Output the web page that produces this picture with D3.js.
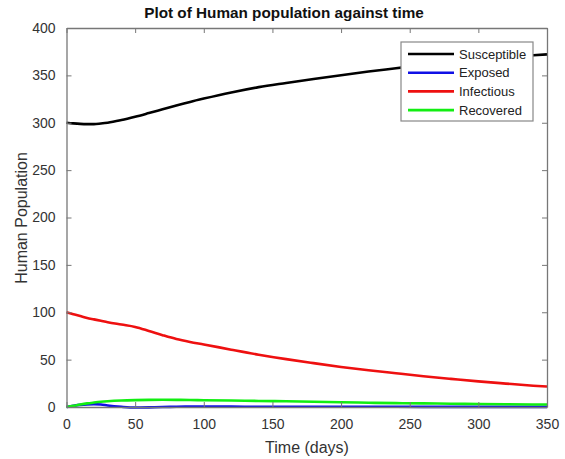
<!DOCTYPE html>
<html>
<head>
<meta charset="utf-8">
<script src="https://cdn.jsdelivr.net/npm/d3@7"></script>
<style>
  html, body { margin: 0; padding: 0; background: #fff; }
  svg { display: block; font-family: "Liberation Sans", Arial, sans-serif; }
</style>
</head>
<body>
<svg id="chart" width="565" height="459"></svg>
<script>
// Time points (days) and population of each compartment
const time        = [0, 5, 10, 15, 20, 25, 30, 40, 50, 60, 70, 80, 90, 100, 120, 140, 160, 180, 200, 220, 240, 260, 280, 300, 320, 340, 350];
const susceptible = [300, 299.3, 298.8, 298.6, 298.6, 299.2, 300, 302.8, 306.3, 310.2, 314.2, 318.2, 322, 325.5, 332, 337.6, 342, 346.2, 350.2, 354, 357.5, 361, 364, 366.6, 369, 371.2, 372.2];
const exposed     = [0, 1.2, 2.2, 2.8, 3, 2.6, 1.6, 0.2, -0.6, -0.4, 0, 0.3, 0.4, 0.5, 0.4, 0.3, 0.3, 0.2, 0.2, 0.2, 0.2, 0.1, 0.1, 0.1, 0.1, 0.1, 0.1];
const infectious  = [100, 98, 96, 94, 92.5, 91, 89.5, 87, 84.5, 80.3, 75.8, 71.7, 68.6, 66, 60.5, 55.2, 50.5, 46.3, 42.3, 38.8, 35.6, 32.5, 29.7, 27, 24.7, 22.5, 21.6];
const recovered   = [0, 1.2, 2.6, 3.8, 4.7, 5.5, 6.1, 6.9, 7.3, 7.5, 7.6, 7.5, 7.4, 7.2, 6.8, 6.4, 6, 5.5, 5, 4.5, 4.1, 3.8, 3.5, 3.2, 2.9, 2.7, 2.6];

const seriesNames  = ["Susceptible", "Exposed", "Infectious", "Recovered"];
const seriesValues = [susceptible, exposed, infectious, recovered];
const seriesColors = ["#000000", "#1010e6", "#ee1010", "#12ee12"];

const xTicks = [0, 50, 100, 150, 200, 250, 300, 350];
const yTicks = [0, 50, 100, 150, 200, 250, 300, 350, 400];

const svg = d3.select("#chart");
const plot = { left: 66.5, right: 547, top: 28, bottom: 407 };

const x = d3.scaleLinear().domain([0, 350]).range([plot.left, plot.right]);
const y = d3.scaleLinear().domain([0, 400]).range([plot.bottom, plot.top]);

const axisColor = "#777";
const tickLen = 5;

// Data lines
const line = d3.line()
  .x((d, i) => x(time[i]))
  .y(d => y(d))
  .curve(d3.curveMonotoneX);

svg.append("g")
  .selectAll("path")
  .data(seriesValues)
  .join("path")
  .attr("d", d => line(d))
  .attr("fill", "none")
  .attr("stroke", (d, i) => seriesColors[i])
  .attr("stroke-width", 2.6)
  .attr("stroke-linejoin", "round");

// Axes: bottom/left with labels, top/right as tick-only mirrors (box style)
function styleAxis(g) {
  g.select(".domain").attr("stroke", axisColor).attr("stroke-width", 1.3);
  g.selectAll(".tick line").attr("stroke", axisColor).attr("stroke-width", 1);
  g.selectAll(".tick text")
    .attr("fill", "#333")
    .style("font-size", "14px")
    .style("font-family", "'Liberation Sans', Arial, sans-serif");
}

svg.append("g")
  .attr("transform", `translate(0,${plot.bottom})`)
  .call(d3.axisBottom(x).tickValues(xTicks).tickFormat(d3.format("d"))
    .tickSizeInner(-tickLen).tickSizeOuter(0).tickPadding(12))
  .call(styleAxis);

svg.append("g")
  .attr("transform", `translate(${plot.left},0)`)
  .call(d3.axisLeft(y).tickValues(yTicks).tickFormat(d3.format("d"))
    .tickSizeInner(-tickLen).tickSizeOuter(0).tickPadding(11))
  .call(styleAxis);

svg.append("g")
  .attr("transform", `translate(0,${plot.top})`)
  .call(d3.axisTop(x).tickValues(xTicks).tickFormat("")
    .tickSizeInner(-tickLen).tickSizeOuter(0))
  .call(styleAxis);

svg.append("g")
  .attr("transform", `translate(${plot.right},0)`)
  .call(d3.axisRight(y).tickValues(yTicks).tickFormat("")
    .tickSizeInner(-tickLen).tickSizeOuter(0))
  .call(styleAxis);

// Title and axis labels
svg.append("text")
  .attr("x", 284).attr("y", 18)
  .attr("text-anchor", "middle")
  .style("font-size", "15.3px").style("font-weight", "bold")
  .attr("fill", "#111")
  .text("Plot of Human population against time");

svg.append("text")
  .attr("x", 307).attr("y", 453)
  .attr("text-anchor", "middle")
  .style("font-size", "16px")
  .attr("fill", "#333")
  .text("Time (days)");

svg.append("text")
  .attr("transform", "translate(27,218) rotate(-90)")
  .attr("text-anchor", "middle")
  .style("font-size", "16px")
  .attr("fill", "#333")
  .text("Human Population");

// Legend
const legend = svg.append("g").attr("transform", "translate(401,42)");
legend.append("rect")
  .attr("width", 132).attr("height", 79)
  .attr("fill", "#fff")
  .attr("stroke", "#888").attr("stroke-width", 1.2);

const rows = legend.selectAll("g.row")
  .data(seriesNames)
  .join("g")
  .attr("class", "row")
  .attr("transform", (d, i) => `translate(0,${12 + i * 18.7})`);

rows.append("line")
  .attr("x1", 7).attr("x2", 53)
  .attr("stroke", (d, i) => seriesColors[i])
  .attr("stroke-width", 2.6);

rows.append("text")
  .attr("x", 58).attr("y", 0)
  .attr("dy", "0.35em")
  .style("font-size", "13px")
  .attr("fill", "#222")
  .text(d => d);
</script>
</body>
</html>
